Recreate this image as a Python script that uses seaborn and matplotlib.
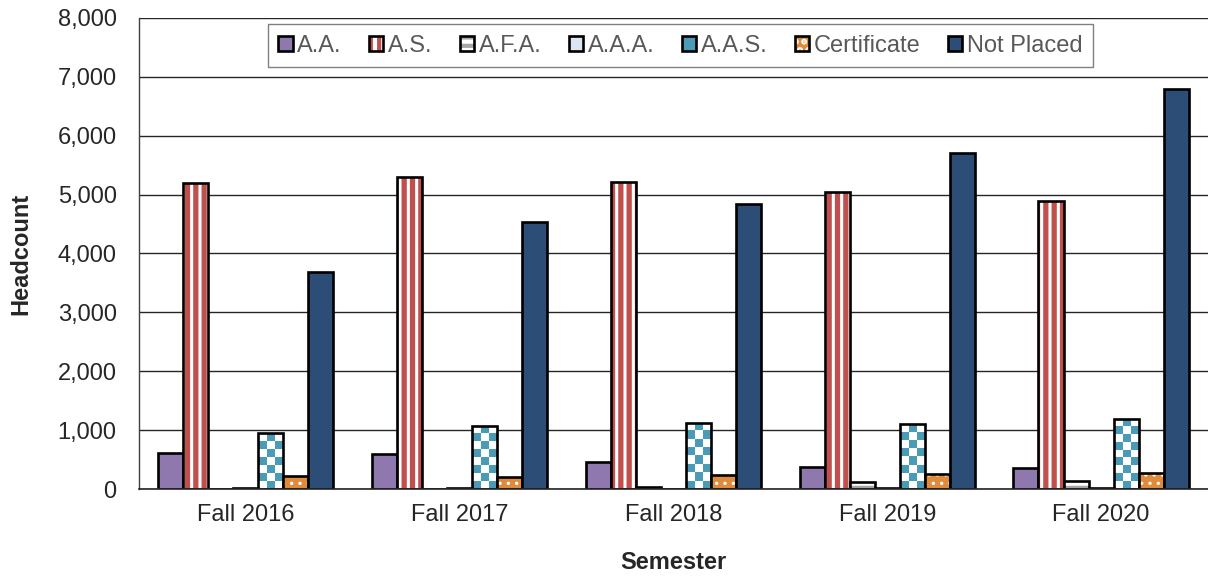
import numpy as np
import pandas as pd
import matplotlib.pyplot as plt
import seaborn as sns
from matplotlib.patches import Patch
from matplotlib.colors import ListedColormap, to_rgba
from matplotlib.ticker import FuncFormatter

# values
semesters = ['Fall 2016', 'Fall 2017', 'Fall 2018', 'Fall 2019', 'Fall 2020']
degrees = ['A.A.', 'A.S.', 'A.F.A.', 'A.A.A.', 'A.A.S.', 'Certificate', 'Not Placed']
aa = [615, 590, 465, 375, 355]
as_deg = [5195, 5290, 5205, 5035, 4885]
afa = [0, 0, 35, 120, 130]
aaa = [12, 12, 8, 20, 20]
aas = [950, 1070, 1125, 1100, 1190]
cert = [220, 205, 240, 250, 275]
not_placed = [3690, 4530, 4840, 5710, 6790]

values = [aa, as_deg, afa, aaa, aas, cert, not_placed]
df = pd.DataFrame({
    'semester': np.repeat(semesters, len(degrees)),
    'degree': degrees * len(semesters),
    'headcount': [v[i] for i in range(len(semesters)) for v in values],
})

# face colour, hatch, hatch colour, hatch line width per series
styles = {
    'A.A.': ('#8E78AE', '', None, None),
    'A.S.': ('white', '||', '#C0504D', 3.8),
    'A.F.A.': ('white', '--', '#A6A6A6', 2.5),
    'A.A.A.': ('#DCE6F2', '', None, None),
    'A.A.S.': ('#4A9BB5', '', None, None),
    'Certificate': ('#E08A3C', '..', 'white', 1.2),
    'Not Placed': ('#2C4D75', '', None, None),
}

sns.set_style('white')
plt.rcParams['font.family'] = ['Liberation Sans', 'DejaVu Sans']
plt.rcParams['hatch.linewidth'] = 3.0

fig, ax = plt.subplots(figsize=(12.08, 5.77), dpi=100)
fig.subplots_adjust(left=0.115, right=1.0, bottom=0.1525, top=0.969)

edge_lw = 1.9


def style_hatch(patch, hatch, color, lw):
    if not hatch:
        return
    patch.set_hatch(hatch)
    if hasattr(patch, 'set_hatchcolor'):
        patch.set_hatchcolor(color)
    else:
        patch._hatch_color = to_rgba(color)
    if hasattr(patch, 'set_hatch_linewidth'):
        patch.set_hatch_linewidth(lw)
    elif hasattr(patch, '_hatch_linewidth'):
        patch._hatch_linewidth = lw


sns.barplot(
    data=df, x='semester', y='headcount', hue='degree', hue_order=degrees,
    palette=[styles[d][0] for d in degrees], saturation=1, width=0.82,
    edgecolor='black', linewidth=edge_lw, errorbar=None, legend=False, ax=ax,
)

ax.set_ylim(0, 8000)
ax.set_xlim(-0.5, 4.5)

for container, deg in zip(ax.containers, degrees):
    face, hatch, hcol, hlw = styles[deg]
    for bar in container:
        bar.set_zorder(2)
        style_hatch(bar, hatch, hcol, hlw)

# checkerboard fill for A.A.S. bars, clipped to each bar
checker_cmap = ListedColormap(['white', styles['A.A.S.'][0]])
for bar in ax.containers[degrees.index('A.A.S.')]:
    x0, w, h = bar.get_x(), bar.get_width(), bar.get_height()
    (px0, py0), (px1, py1) = ax.transData.transform([(x0, 0), (x0 + w, h)])
    nx = max(1, round((px1 - px0) / 8))
    ny = max(1, round((py1 - py0) / 8))
    cells = np.indices((ny, nx)).sum(axis=0) % 2
    img = ax.imshow(cells, cmap=checker_cmap, extent=(x0, x0 + w, 0, h),
                    origin='upper', aspect='auto', interpolation='nearest', zorder=1.5)
    img.set_clip_path(bar)
    bar.set_facecolor('none')

ax.set_ylim(0, 8000)
ax.set_xlim(-0.5, 4.5)

# axes styling
ax.set_yticks(range(0, 8001, 1000))
ax.yaxis.set_major_formatter(FuncFormatter(lambda v, p: f'{v:,.0f}'))
ax.grid(axis='y', color='#262626', linewidth=1.0)
ax.set_axisbelow(True)
for side in ['top', 'right']:
    ax.spines[side].set_visible(False)
ax.spines['left'].set_color('#404040')
ax.spines['left'].set_linewidth(1.0)
ax.spines['bottom'].set_color('#262626')
ax.spines['bottom'].set_linewidth(1.2)
ax.tick_params(axis='y', length=0, labelsize=17, pad=16)
ax.tick_params(axis='x', length=0, labelsize=17, pad=11)

ax.set_ylabel('Headcount', fontsize=17, fontweight='bold')
ax.set_xlabel('Semester', fontsize=17, fontweight='bold')
ax.yaxis.set_label_coords(-0.100, 0.5)
ax.xaxis.set_label_coords(0.5, -0.132)

# legend
handles = []
for deg in degrees:
    face, hatch, hcol, hlw = styles[deg]
    hp = Patch(facecolor=face, edgecolor='black', linewidth=edge_lw)
    style_hatch(hp, hatch, hcol, hlw)
    handles.append(hp)

leg = ax.legend(
    handles, degrees, loc='upper center', bbox_to_anchor=(0.5066, 0.987), ncol=7,
    borderaxespad=0, frameon=True, fancybox=False, framealpha=1, edgecolor='#808080',
    handlelength=0.6, handleheight=0.6, handletextpad=0.2, columnspacing=1.16,
    borderpad=0.45, labelcolor='#595959', fontsize=17,
)
leg.get_frame().set_linewidth(1.0)

plt.savefig('out.png', dpi=100)
